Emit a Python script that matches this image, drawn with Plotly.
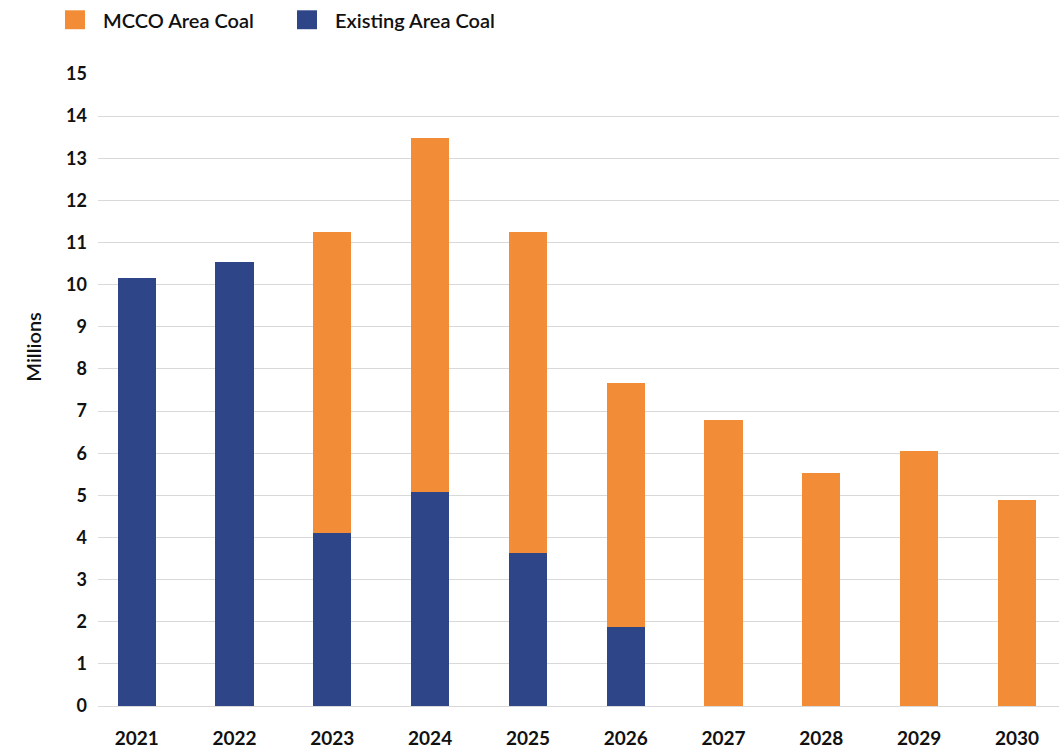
import plotly.graph_objects as go

years = ["2021", "2022", "2023", "2024", "2025", "2026", "2027", "2028", "2029", "2030"]
existing_area_coal = [10.17, 10.54, 4.11, 5.09, 3.62, 1.87, 0, 0, 0, 0]
mcco_area_coal = [0, 0, 7.15, 8.39, 7.64, 5.79, 6.79, 5.52, 6.05, 4.89]
y_ticks = list(range(0, 16))

ORANGE = "#F28C36"
BLUE = "#2E4587"
FONT = "Lato, 'Open Sans', sans-serif"

fig = go.Figure()
fig.add_trace(go.Bar(x=years, y=existing_area_coal, name="Existing Area Coal",
                     marker=dict(color=BLUE, line=dict(width=0)), width=0.39))
fig.add_trace(go.Bar(x=years, y=mcco_area_coal, name="MCCO Area Coal",
                     marker=dict(color=ORANGE, line=dict(width=0)), width=0.39))

W, H = 1061, 751
ml, mr, mt, mb = 98, 2, 74, 42
pw, ph = W - ml - mr, H - mt - mb
def px(x):
    return (x - ml) / pw
def py(y):
    return 1 - (y - mt) / ph

# custom legend (larger squares, like the reference)
legend_items = [("MCCO Area Coal", ORANGE, 65), ("Existing Area Coal", BLUE, 297)]
for label, color, x0 in legend_items:
    fig.add_shape(type="rect", xref="paper", yref="paper",
                  x0=px(x0), x1=px(x0 + 20), y0=py(29), y1=py(10),
                  fillcolor=color, line=dict(width=0))
    fig.add_annotation(xref="paper", yref="paper", x=px(x0 + 36), y=py(19.5),
                       text=label, showarrow=False, xanchor="left", yanchor="middle",
                       font=dict(family=FONT, size=20, color="#111111", weight=600))

# y-axis title, placed like the reference (above the plot's vertical centre)
fig.add_annotation(xref="paper", yref="paper", x=px(33), y=py(348),
                   text="Millions", showarrow=False, textangle=-90,
                   xanchor="center", yanchor="middle",
                   font=dict(family=FONT, size=20, color="#111111", weight=600))

fig.update_layout(
    barmode="stack",
    width=W, height=H,
    margin=dict(l=ml, r=mr, t=mt, b=mb),
    paper_bgcolor="white", plot_bgcolor="white",
    showlegend=False,
    font=dict(family=FONT, color="#111111"),
)
fig.update_xaxes(
    type="category", range=[-0.396, 9.43],
    showgrid=False, showline=False, zeroline=False, ticks="",
    tickfont=dict(family=FONT, size=19, color="#111111", weight="bold"),
    ticklabelstandoff=19,
)
fig.update_yaxes(
    range=[0, 15], tickvals=y_ticks, ticktext=[str(v) for v in y_ticks],
    showgrid=True, gridcolor="#D9D9D9", gridwidth=1.3,
    zeroline=True, zerolinecolor="#D9D9D9", zerolinewidth=1.3,
    showline=False, ticks="",
    tickfont=dict(family=FONT, size=18, color="#111111", weight="bold"),
    ticklabelstandoff=10,
)

fig.write_html("out.html")
